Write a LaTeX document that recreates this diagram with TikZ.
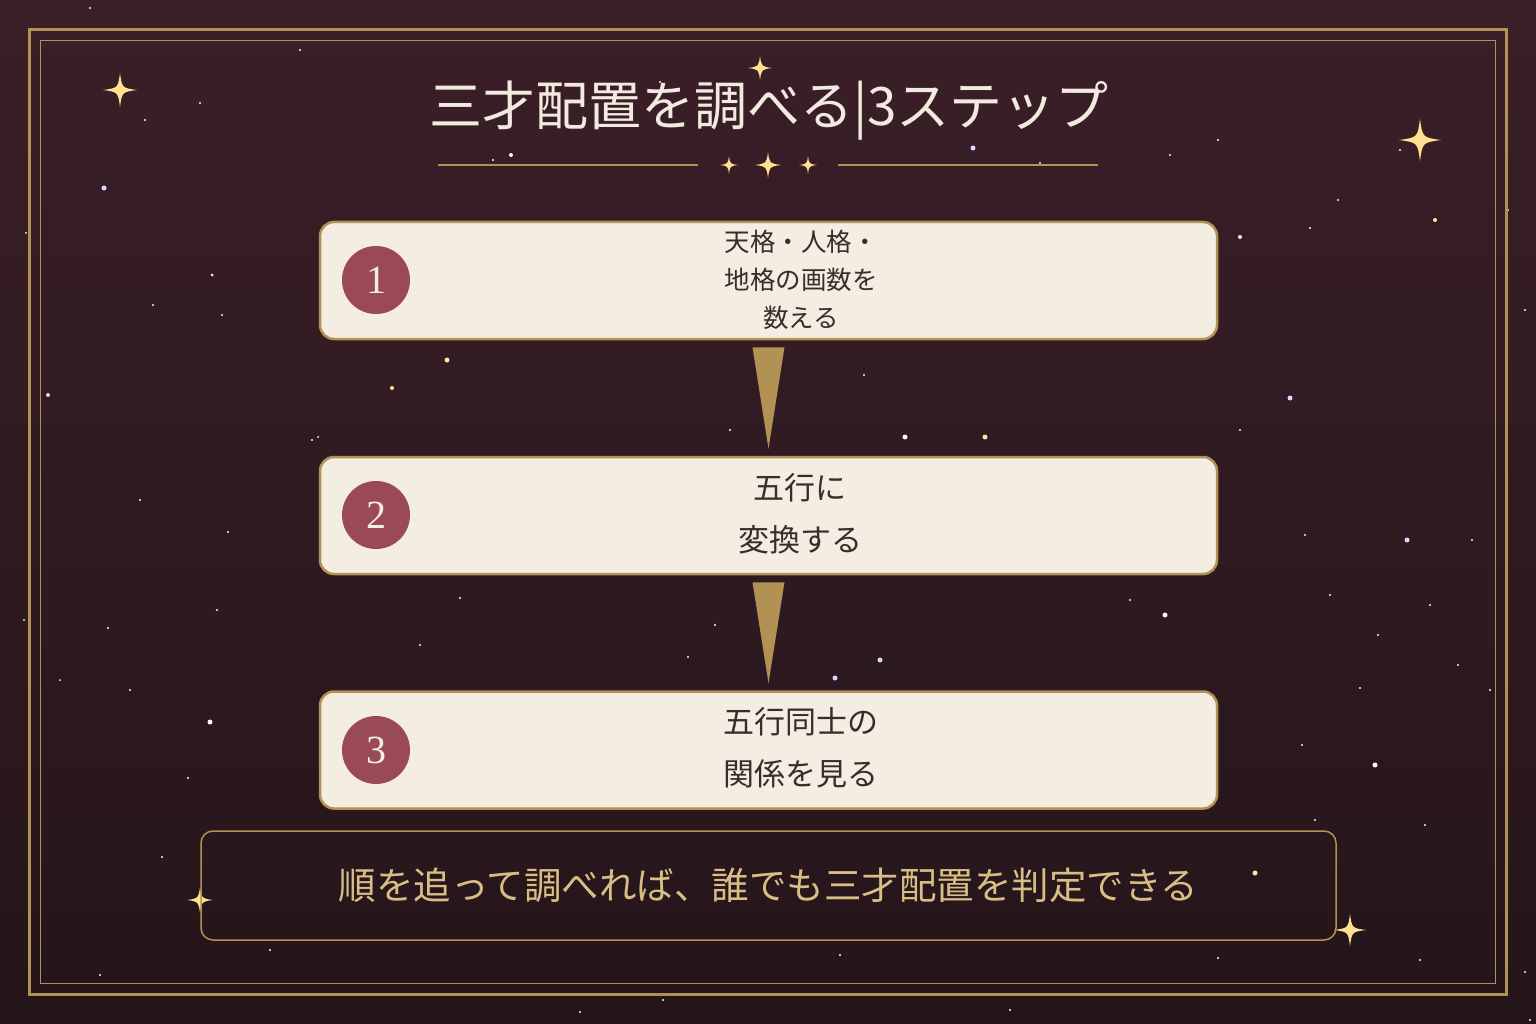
\documentclass[tikz,border=0pt]{standalone}
\usepackage{fontspec}
\newfontfamily\jp{Noto Sans CJK JP}
\newfontfamily\serifnum{Liberation Serif}
\definecolor{bgtop}{HTML}{3B1F28}
\definecolor{bgbot}{HTML}{24151A}
\definecolor{goldc}{HTML}{B29154}
\definecolor{creamc}{HTML}{F4EDE2}
\definecolor{winec}{HTML}{9A4A57}
\definecolor{darktext}{HTML}{3B2B2D}
\definecolor{titlec}{HTML}{F2EADF}
\definecolor{bottomtext}{HTML}{D8BD85}
\definecolor{sparkc}{HTML}{FFE090}
\definecolor{dotw}{HTML}{FFF6E6}
\definecolor{dotl}{HTML}{D8D8FF}
\definecolor{dotg}{HTML}{FFE6A0}
\newcommand\mysparkle[3]{\fill[sparkc,shift={(#1,#2)},scale=#3] (0,-1) .. controls (0.12,-0.12) .. (1,0) .. controls (0.12,0.12) .. (0,1) .. controls (-0.12,0.12) .. (-1,0) .. controls (-0.12,-0.12) .. (0,-1) -- cycle;}
\tikzset{
  stepbox/.style={draw=goldc,line width=2.5pt,fill=creamc,rounded corners=14pt,minimum width=897pt,minimum height=117pt,inner sep=0pt},
  numcirc/.style={circle,fill=winec,minimum size=68pt,inner sep=0pt,text=creamc,font=\serifnum\fontsize{40}{40}\selectfont},
  steptext/.style={align=center,text=darktext,inner sep=0pt},
  arrowtri/.style={fill=goldc},
}
\begin{document}
\begin{tikzpicture}[x=1pt,y=-1pt]
\useasboundingbox (0,0) rectangle (1536,1024);
\shade[top color=bgtop,bottom color=bgbot] (0,0) rectangle (1536,1024);
% dots
\foreach \x/\y/\r/\c in {
90/8/1.2/dotw, 300/50/1.2/dotw, 200/103/1.2/dotw, 145/120/1.2/dotw, 104/188/2.5/dotl, 26/233/1/dotw,
212/275/1.5/dotw, 153/305/1.2/dotw, 222/315/1.2/dotw, 48/395/2/dotl, 447/360/2.5/dotg, 392/388/2/dotg,
312/440/1.2/dotw, 318/437/1/dotw, 140/500/1.2/dotw, 228/532/1.2/dotw, 217/610/1.2/dotw, 108/628/1.2/dotw,
130/690/1.2/dotw, 210/722/2.5/dotw, 188/778/1.2/dotw, 162/857/1.2/dotw, 100/975/1.2/dotw, 270/950/1.2/dotw,
493/160/1.2/dotw, 511/155/2/dotw, 660/82/1.2/dotw, 973/148/2.5/dotl, 1040/163/1.2/dotw, 1218/140/1.2/dotw,
1240/237/2/dotw, 1310/228/1.2/dotw, 1338/200/1.2/dotw, 1435/220/2/dotg, 1508/210/1.2/dotw, 1525/310/1.2/dotw,
1290/398/2.5/dotl, 1240/430/1.2/dotw, 905/437/2.5/dotw, 985/437/2.5/dotg, 730/430/1.2/dotw, 864/375/1.2/dotw,
1407/540/2.5/dotl, 1472/540/1.2/dotw, 1305/535/1.2/dotw, 1430/605/1.2/dotw, 1330/595/1.2/dotw, 1165/615/2.5/dotw,
1130/600/1.2/dotw, 880/660/2.5/dotl, 835/678/2.5/dotl, 715/625/1.2/dotw, 688/657/1.2/dotw, 460/598/1.2/dotw,
420/645/1.2/dotw, 1378/635/1.2/dotw, 1458/665/1.2/dotw, 1360/688/1.2/dotw, 1490/690/1.2/dotw, 1375/765/2.5/dotw,
1302/745/1.2/dotw, 1425/825/1.2/dotw, 1255/873/2.5/dotg, 1315/820/1.2/dotw, 1525/972/1.2/dotw, 1420/960/1.2/dotw,
1218/958/1.2/dotw, 840/955/1.2/dotw, 663/1000/1.2/dotw, 580/1012/1.2/dotw, 1010/1010/1.2/dotw, 1530/1020/1.2/dotw,
24/620/1/dotw, 60/680/1/dotw, 1170/155/1.2/dotw, 1400/150/1.2/dotw}
  \fill[\c] (\x,\y) circle[radius=\r pt];
% frames
\draw[goldc,line width=3pt] (29.5,29.5) rectangle (1506.5,994.5);
\draw[goldc,line width=1.5pt] (40.5,40.5) rectangle (1495.5,983.5);
% sparkles
\mysparkle{120}{90}{17}
\mysparkle{760}{68}{12}
\mysparkle{1420}{140}{21}
\mysparkle{200}{900}{13}
\mysparkle{1350}{930}{16}
% title
\node[text=titlec,font=\jp\fontsize{53}{53}\selectfont,inner sep=0pt] (title) at (769,111) {三才配置を調べる|3ステップ};
\coordinate (dl1) at (438,165); \coordinate (dl2) at (698,165);
\coordinate (dr1) at (838,165); \coordinate (dr2) at (1098,165);
\draw[goldc,line width=2pt] (dl1) -- (dl2);
\draw[goldc,line width=2pt] (dr1) -- (dr2);
\mysparkle{729}{165}{9}
\mysparkle{768}{165}{13}
\mysparkle{808}{165}{9}
% boxes
\node[stepbox] (b1) at (768.5,280.5) {};
\node[stepbox] (b2) at (768.5,515.5) {};
\node[stepbox] (b3) at (768.5,750) {};
\node[numcirc] (c1) at (376,280) {1};
\node[numcirc] (c2) at (376,515) {2};
\node[numcirc] (c3) at (376,750) {3};
\node[steptext,font=\jp\fontsize{25.5}{38}\selectfont] (t1) at (801,280) {天格・人格・\\地格の画数を\\数える};
\node[steptext,font=\jp\fontsize{31}{52}\selectfont] (t2) at (800,514) {五行に\\変換する};
\node[steptext,font=\jp\fontsize{31}{52}\selectfont] (t3) at (801,748) {五行同士の\\関係を見る};
% arrows
\fill[arrowtri] ([xshift=-16pt,yshift=-7pt]b1.south) -- ([xshift=16pt,yshift=-7pt]b1.south) -- ([yshift=7pt]b2.north) -- cycle;
\fill[arrowtri] ([xshift=-16pt,yshift=-7pt]b2.south) -- ([xshift=16pt,yshift=-7pt]b2.south) -- ([yshift=7pt]b3.north) -- cycle;
% bottom
\node[draw=goldc,line width=1.5pt,rounded corners=12pt,minimum width=1135pt,minimum height=109pt,inner sep=0pt,text=bottomtext,font=\jp\fontsize{37.5}{37.5}\selectfont] (summary) at (768.5,885.5) {順を追って調べれば、誰でも三才配置を判定できる};
\end{tikzpicture}
\end{document}
